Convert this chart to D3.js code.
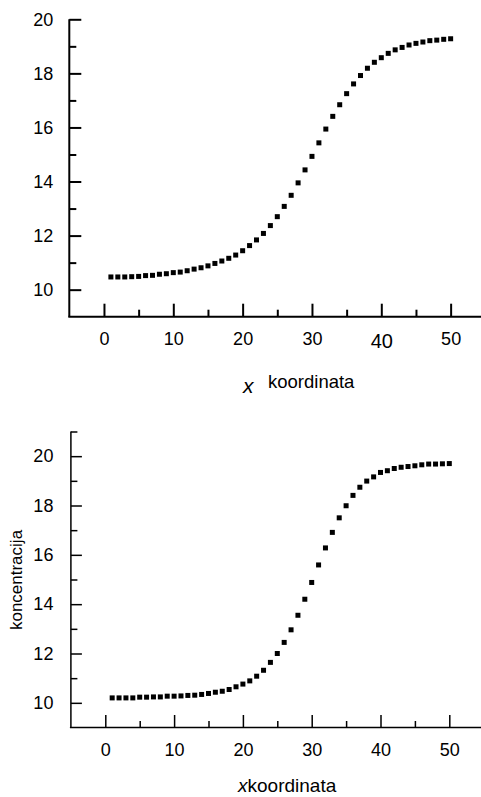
<!DOCTYPE html>
<html>
<head>
<meta charset="utf-8">
<script src="https://cdn.jsdelivr.net/npm/d3@7"></script>
<style>
  html, body { margin: 0; padding: 0; background: #fff; }
  svg { display: block; font-family: "Liberation Sans", Arial, Helvetica, sans-serif; }
</style>
</head>
<body>
<svg id="chart" width="481" height="797"></svg>
<script>
// ---- data ----
const xValues = d3.range(1, 51);
const topValues = [10.47, 10.47, 10.47, 10.48, 10.49, 10.52, 10.53, 10.57, 10.59, 10.63,
  10.65, 10.70, 10.76, 10.81, 10.88, 10.97, 11.06, 11.16, 11.28, 11.44,
  11.63, 11.84, 12.08, 12.37, 12.70, 13.08, 13.49, 13.95, 14.43, 14.93,
  15.43, 15.94, 16.41, 16.84, 17.25, 17.61, 17.92, 18.19, 18.41, 18.58,
  18.74, 18.87, 18.96, 19.05, 19.11, 19.16, 19.21, 19.23, 19.26, 19.28];
const bottomValues = [10.20, 10.20, 10.20, 10.20, 10.23, 10.23, 10.24, 10.24, 10.27, 10.27,
  10.28, 10.30, 10.31, 10.34, 10.38, 10.43, 10.47, 10.54, 10.65, 10.76,
  10.89, 11.08, 11.32, 11.64, 12.00, 12.45, 12.96, 13.55, 14.20, 14.88,
  15.59, 16.28, 16.91, 17.50, 17.99, 18.41, 18.74, 18.99, 19.16, 19.34,
  19.41, 19.50, 19.55, 19.58, 19.61, 19.65, 19.68, 19.68, 19.69, 19.70];
const xMajorTicks = [0, 10, 20, 30, 40, 50];
const xMinorTicks = [5, 15, 25, 35, 45];
const yMajorTicks = [10, 12, 14, 16, 18, 20];
const topYMinorTicks = [11, 13, 15, 17, 19];
const bottomYMinorTicks = [11, 13, 15, 17, 19, 21];
const topXLabel = ["x", "koordinata"];
const bottomXLabel = ["x", "koordinata"];
const bottomYLabel = "koncentracija";

const svg = d3.select("#chart");

function panel(cfg) {
  const g = svg.append("g");
  const x = d3.scaleLinear().domain([-5, 55]).range(cfg.xRange);
  const y = d3.scaleLinear().domain(cfg.yDomain).range(cfg.yRange);

  // x axis: minor ticks
  const xMinor = g.append("g").attr("transform", `translate(0,${cfg.yRange[0]})`)
    .call(d3.axisBottom(x).tickValues(xMinorTicks).tickFormat("").tickSizeInner(-cfg.minorLen).tickSizeOuter(0));
  xMinor.select(".domain").remove();
  // x axis: major ticks + labels
  const xMajor = g.append("g").attr("transform", `translate(0,${cfg.yRange[0]})`)
    .call(d3.axisBottom(x).tickValues(xMajorTicks).tickFormat(d3.format("d"))
      .tickSizeInner(-cfg.xMajorLen).tickSizeOuter(0).tickPadding(cfg.xPad));
  xMajor.select(".domain").remove();
  xMajor.selectAll("text").attr("font-size", 18).attr("fill", "#000");
  if (cfg.bigForty) {
    xMajor.selectAll("text").filter(d => d === 40).attr("font-size", 20).attr("dy", "0.78em");
  }

  // y axis: minor
  const yMinor = g.append("g").attr("transform", `translate(${cfg.xRange[0]},0)`)
    .call(d3.axisLeft(y).tickValues(cfg.yMinor).tickFormat("").tickSizeInner(-cfg.minorLen).tickSizeOuter(0));
  yMinor.select(".domain").remove();
  const yMajor = g.append("g").attr("transform", `translate(${cfg.xRange[0]},0)`)
    .call(d3.axisLeft(y).tickValues(yMajorTicks).tickFormat(d3.format("d"))
      .tickSizeInner(-cfg.yMajorLen).tickSizeOuter(0).tickPadding(cfg.yPad));
  yMajor.select(".domain").remove();
  yMajor.selectAll("text").attr("font-size", 18).attr("fill", "#000");

  g.selectAll(".tick line").attr("stroke", "#000").attr("stroke-width", cfg.sw);

  // axis lines
  g.append("line").attr("x1", cfg.xRange[0] - 1).attr("x2", 481)
    .attr("y1", cfg.yRange[0]).attr("y2", cfg.yRange[0])
    .attr("stroke", "#000").attr("stroke-width", cfg.sw);
  g.append("line").attr("x1", cfg.xRange[0]).attr("x2", cfg.xRange[0])
    .attr("y1", cfg.yRange[0]).attr("y2", cfg.yRange[1])
    .attr("stroke", "#000").attr("stroke-width", cfg.sw);

  // points
  const s = 5;
  g.append("g").selectAll("rect").data(cfg.values).join("rect")
    .attr("x", (d, i) => x(xValues[i]) - s / 2)
    .attr("y", d => y(d) - s / 2)
    .attr("width", s).attr("height", s)
    .attr("fill", "#000");
  return { g, x, y };
}

// ---- top panel ----
panel({
  xRange: [69.3, 485.3], yDomain: [9, 20], yRange: [316.7, 19.3],
  values: topValues, yMinor: topYMinorTicks,
  xMajorLen: 13, yMajorLen: 12, minorLen: 7, sw: 2,
  xPad: 16, yPad: 16, bigForty: true
});

const topLbl = svg.append("text").attr("y", 388).attr("fill", "#000");
topLbl.append("tspan").attr("x", 243).attr("y", 393).attr("font-style", "italic").attr("font-size", 21).text(topXLabel[0]);
topLbl.append("tspan").attr("x", 268).attr("y", 388).attr("font-size", 18.5).text(topXLabel[1]);

// ---- bottom panel ----
panel({
  xRange: [70.9, 483.7], yDomain: [9, 21], yRange: [727.5, 431.5],
  values: bottomValues, yMinor: bottomYMinorTicks,
  xMajorLen: 12.5, yMajorLen: 11, minorLen: 6.5, sw: 1.5,
  xPad: 16, yPad: 17.5, bigForty: false
});

const botLbl = svg.append("text").attr("x", 238).attr("y", 792).attr("fill", "#000").attr("font-size", 19);
botLbl.append("tspan").attr("font-style", "italic").text(bottomXLabel[0]);
botLbl.append("tspan").text(bottomXLabel[1]);

svg.append("text")
  .attr("transform", "translate(22,580) rotate(-90)")
  .attr("text-anchor", "middle")
  .attr("font-size", 17)
  .attr("fill", "#000")
  .text(bottomYLabel);
</script>
</body>
</html>
